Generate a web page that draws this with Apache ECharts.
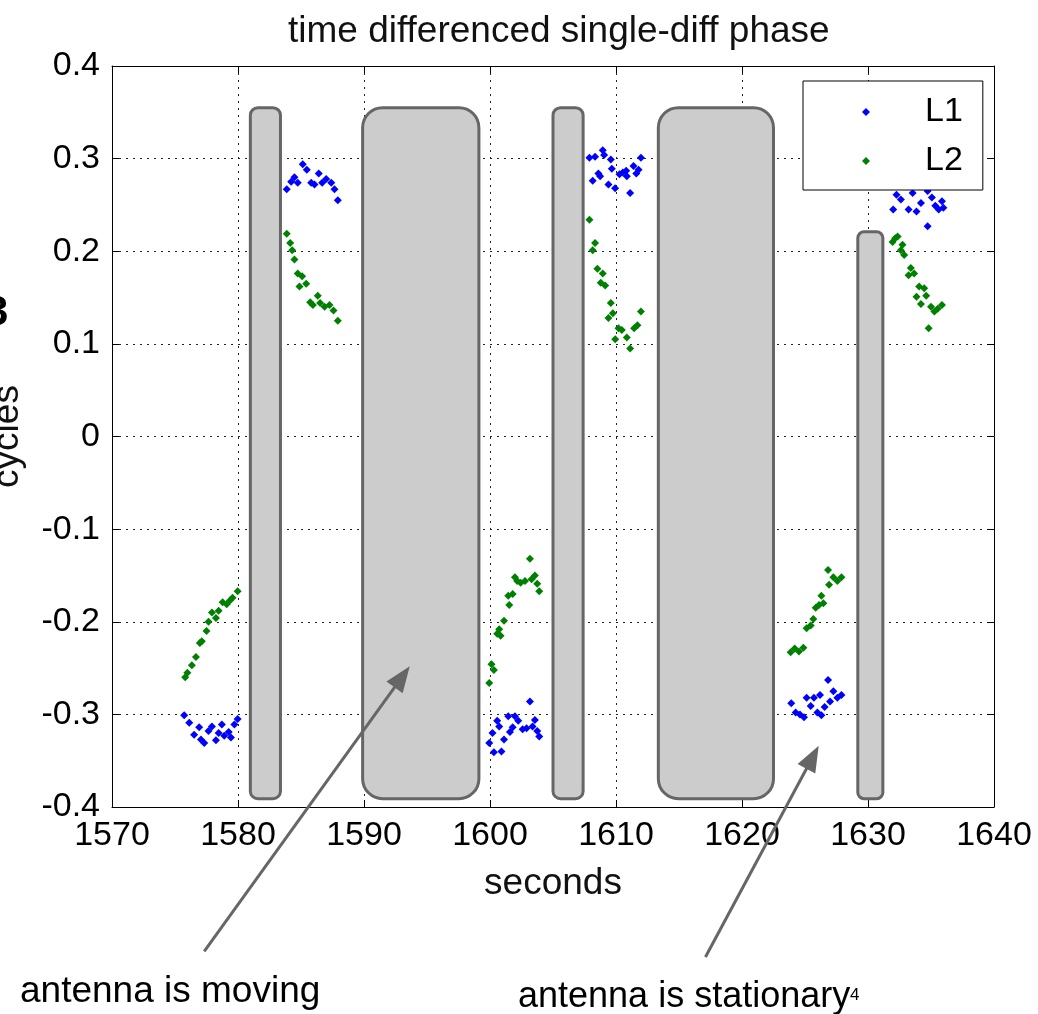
<!DOCTYPE html>
<html>
<head>
<meta charset="utf-8">
<script src="https://cdn.jsdelivr.net/npm/echarts@6/dist/echarts.min.js"></script>
<style>
html,body{margin:0;padding:0;background:#fff;}
#chart{width:1038px;height:1014px;}
</style>
</head>
<body>
<div id="chart"></div>
<script>
// ---- data ----
const l1Time = [
  1575.73,1576.13,1576.52,1576.92,1577.06,1577.32,1577.66,1577.93,1578.25,1578.46,1578.72,1578.91,1579.26,1579.44,1579.71,1579.97,
  1583.87,1584.22,1584.48,1584.74,1585.14,1585.46,1585.81,1586.07,1586.41,1586.68,1587.00,1587.40,1587.66,1587.92,
  1599.94,1600.20,1600.31,1600.57,1600.73,1600.91,1601.11,1601.45,1601.58,1601.80,1601.98,1602.24,1602.59,1602.90,1603.17,1603.38,1603.56,1603.75,1603.91,
  1607.89,1608.15,1608.34,1608.60,1608.74,1608.95,1609.06,1609.40,1609.59,1609.67,1609.93,1610.28,1610.54,1610.81,1610.86,1611.12,1611.39,1611.61,1611.79,1611.98,
  1623.91,1624.26,1624.60,1624.92,1625.13,1625.45,1625.71,1625.98,1626.19,1626.30,1626.56,1626.83,1626.99,1627.25,1627.57,1627.89,
  1632.00,1632.26,1632.50,1632.61,1633.00,1633.22,1633.54,1633.70,1633.85,1634.20,1634.50,1634.73,1634.73,1635.07,1635.20,1635.34,1635.61,1635.87,1635.98
];
const l1Cycles = [
  -0.301,-0.309,-0.322,-0.314,-0.327,-0.331,-0.318,-0.313,-0.328,-0.320,-0.311,-0.323,-0.319,-0.325,-0.311,-0.305,
  0.267,0.275,0.280,0.274,0.294,0.288,0.274,0.272,0.284,0.274,0.278,0.274,0.267,0.255,
  -0.331,-0.320,-0.341,-0.307,-0.313,-0.340,-0.327,-0.302,-0.319,-0.314,-0.302,-0.307,-0.316,-0.315,-0.286,-0.313,-0.306,-0.318,-0.324,
  0.301,0.276,0.302,0.284,0.281,0.309,0.304,0.272,0.299,0.289,0.268,0.283,0.285,0.287,0.281,0.263,0.292,0.284,0.288,0.301,
  -0.288,-0.298,-0.300,-0.303,-0.282,-0.291,-0.282,-0.298,-0.279,-0.301,-0.292,-0.263,-0.286,-0.275,-0.282,-0.279,
  0.245,0.261,0.275,0.256,0.282,0.245,0.263,0.274,0.243,0.252,0.278,0.265,0.227,0.258,0.271,0.249,0.245,0.254,0.247
];
const l2Time = [
  1575.81,1575.98,1576.34,1576.66,1576.97,1577.13,1577.50,1577.66,1577.93,1578.25,1578.46,1578.78,1579.10,1579.36,1579.57,1579.97,
  1583.87,1584.14,1584.30,1584.48,1584.74,1584.88,1585.09,1585.41,1585.73,1585.94,1586.33,1586.52,1586.87,1587.26,1587.58,1587.92,
  1599.94,1600.12,1600.31,1600.57,1600.73,1600.84,1601.11,1601.45,1601.53,1601.80,1601.98,1602.16,1602.43,1602.78,1603.17,1603.30,1603.56,1603.75,1603.91,
  1607.89,1608.15,1608.34,1608.52,1608.79,1608.95,1609.14,1609.40,1609.59,1609.75,1609.94,1610.20,1610.46,1610.86,1611.12,1611.44,1611.70,1611.98,
  1623.86,1624.18,1624.52,1624.87,1625.13,1625.45,1625.66,1625.85,1626.11,1626.30,1626.46,1626.83,1626.91,1627.25,1627.57,1627.89,
  1631.95,1632.16,1632.35,1632.61,1632.74,1632.87,1633.22,1633.40,1633.66,1633.85,1634.06,1634.20,1634.46,1634.62,1634.81,1635.00,1635.27,1635.53,1635.87
];
const l2Cycles = [
  -0.260,-0.255,-0.247,-0.238,-0.223,-0.221,-0.210,-0.200,-0.190,-0.196,-0.188,-0.179,-0.181,-0.177,-0.174,-0.167,
  0.219,0.209,0.201,0.191,0.176,0.162,0.173,0.165,0.145,0.142,0.152,0.144,0.140,0.142,0.136,0.125,
  -0.266,-0.246,-0.252,-0.213,-0.208,-0.215,-0.199,-0.172,-0.182,-0.170,-0.152,-0.156,-0.158,-0.156,-0.132,-0.154,-0.150,-0.159,-0.167,
  0.234,0.201,0.209,0.181,0.166,0.176,0.163,0.128,0.144,0.133,0.105,0.117,0.115,0.107,0.095,0.117,0.120,0.135,
  -0.233,-0.229,-0.232,-0.228,-0.207,-0.204,-0.197,-0.185,-0.182,-0.172,-0.180,-0.144,-0.160,-0.152,-0.156,-0.152,
  0.210,0.214,0.216,0.201,0.207,0.196,0.174,0.182,0.176,0.151,0.162,0.143,0.160,0.152,0.117,0.140,0.135,0.138,0.142
];
// shaded intervals (seconds) and their vertical extent (cycles)
const boxStart  = [1580.98, 1589.89, 1605.00, 1613.36, 1629.19];
const boxEnd    = [1583.37, 1599.12, 1607.39, 1622.50, 1631.18];
const boxTop    = [0.355, 0.355, 0.355, 0.355, 0.221];
const boxBottom = [-0.391, -0.391, -0.391, -0.391, -0.391];
// annotation arrows: tail (x,y) -> head (x,y) in data units
const arrowTailX = [1577.32, 1617.10];
const arrowTailY = [-0.556, -0.562];
const arrowHeadX = [1593.63, 1626.09];
const arrowHeadY = [-0.248, -0.334];
const xTicks = [1570, 1580, 1590, 1600, 1610, 1620, 1630, 1640];
const yTicks = [-0.4, -0.3, -0.2, -0.1, 0, 0.1, 0.2, 0.3, 0.4];

const FONT = 'Liberation Sans';
const zip = (a, b) => a.map((v, i) => [v, b[i]]);
const boxes = boxStart.map((s, i) => [s, boxEnd[i], boxTop[i], boxBottom[i]]);
const arrows = arrowTailX.map((x, i) => [x, arrowTailY[i], arrowHeadX[i], arrowHeadY[i]]);

const chart = echarts.init(document.getElementById('chart'), null, {renderer: 'canvas'});

const axisCommon = {
  axisLine: {show: true, onZero: false, lineStyle: {color: '#000', width: 1}},
  axisTick: {show: true, inside: true, length: 7, lineStyle: {color: '#000'}},
  splitLine: {show: false}
};

const option = {
  backgroundColor: '#fff',
  animation: false,
  title: {
    text: 'time differenced single-diff phase',
    left: 283, top: 8,
    textStyle: {fontFamily: FONT, fontSize: 37, fontWeight: 'normal', color: '#111'}
  },
  grid: {left: 112, right: 44, top: 66, bottom: 207, containLabel: false, outerBoundsMode: 'none'},
  legend: {
    orient: 'vertical',
    left: 803, top: 81,
    width: 176,
    backgroundColor: '#fff',
    borderColor: '#000', borderWidth: 1,
    padding: [14, 20, 12, 59],
    itemWidth: 8, itemHeight: 8, itemGap: 15,
    textStyle: {fontFamily: FONT, fontSize: 34, color: '#000', padding: [0, 0, 0, 50]},
    data: [{name: 'L1', icon: 'diamond'}, {name: 'L2', icon: 'diamond'}],
    z: 10
  },
  xAxis: [{
    type: 'value', min: 1570, max: 1640, interval: 10,
    name: 'seconds', nameLocation: 'middle', nameGap: 58, nameMoveOverlap: false,
    nameTextStyle: {fontFamily: FONT, fontSize: 37, color: '#111'},
    axisLabel: {fontFamily: FONT, fontSize: 34, color: '#000', margin: 12, formatter: v => String(v)},
    ...axisCommon,
    splitLine: {show: true, lineStyle: {color: '#222', type: [2, 5], width: 1}}
  }, {
    type: 'value', min: 1570, max: 1640, interval: 10, position: 'top',
    axisLabel: {show: false}, ...axisCommon
  }],
  yAxis: [{
    type: 'value', min: -0.4, max: 0.4, interval: 0.1,
    name: 'cycles', nameLocation: 'middle', nameGap: 86, nameRotate: 90, nameMoveOverlap: false,
    nameTextStyle: {fontFamily: FONT, fontSize: 37, color: '#111'},
    axisLabel: {
      fontFamily: FONT, fontSize: 34, color: '#000', margin: 12,
      formatter: v => { const r = Math.round(v * 10) / 10; return r === 0 ? '0' : r.toFixed(1); }
    },
    ...axisCommon,
    splitLine: {show: true, lineStyle: {color: '#222', type: [2, 5], width: 1}}
  }, {
    type: 'value', min: -0.4, max: 0.4, interval: 0.1, position: 'right',
    axisLabel: {show: false}, ...axisCommon
  }],
  series: [
    {
      name: 'shaded', type: 'custom', xAxisIndex: 0, yAxisIndex: 0, z: 3,
      data: boxes,
      renderItem: (params, api) => {
        const p0 = api.coord([api.value(0), api.value(2)]);
        const p1 = api.coord([api.value(1), api.value(3)]);
        const w = p1[0] - p0[0], h = p1[1] - p0[1];
        const r = Math.min(20, w * 0.25);
        return {
          type: 'rect',
          shape: {x: p0[0], y: p0[1], width: w, height: h, r: r},
          style: {fill: '#cccccc', stroke: '#666666', lineWidth: 3}
        };
      },
      silent: true
    },
    {
      name: 'L1', type: 'scatter', symbol: 'diamond', symbolSize: 8,
      itemStyle: {color: '#0000ff', opacity: 1}, data: zip(l1Time, l1Cycles), z: 4
    },
    {
      name: 'L2', type: 'scatter', symbol: 'diamond', symbolSize: 8,
      itemStyle: {color: '#008000', opacity: 1}, data: zip(l2Time, l2Cycles), z: 4
    },
    {
      name: 'arrows', type: 'custom', clip: false, z: 6, silent: true,
      data: arrows,
      renderItem: (params, api) => {
        const t = api.coord([api.value(0), api.value(1)]);
        const h = api.coord([api.value(2), api.value(3)]);
        const dx = h[0] - t[0], dy = h[1] - t[1];
        const len = Math.sqrt(dx * dx + dy * dy);
        const ux = dx / len, uy = dy / len;
        const L = 26, W = 10;
        const bx = h[0] - ux * L, by = h[1] - uy * L;
        return {
          type: 'group',
          children: [
            {type: 'line', shape: {x1: t[0], y1: t[1], x2: bx + ux * 4, y2: by + uy * 4},
             style: {stroke: '#666666', lineWidth: 3}},
            {type: 'polygon', shape: {points: [[h[0], h[1]], [bx - uy * W, by + ux * W], [bx + uy * W, by - ux * W]]},
             style: {fill: '#666666'}}
          ]
        };
      }
    }
  ],
  graphic: [
    {type: 'text', left: 20, top: 973, style: {text: 'antenna is moving', font: '37px "Liberation Sans"', fill: '#000'}},
    {type: 'text', left: 518, top: 979, style: {text: 'antenna is stationary', font: '36px "Liberation Sans"', fill: '#000'}},
    {type: 'text', left: 850, top: 987, style: {text: '4', font: '17px "Liberation Sans"', fill: '#000'}},
    {type: 'text', left: -15, top: 292, style: {text: '3', font: 'bold 42px "Liberation Sans"', fill: '#000'}}
  ]
};
chart.setOption(option);
</script>
</body>
</html>
